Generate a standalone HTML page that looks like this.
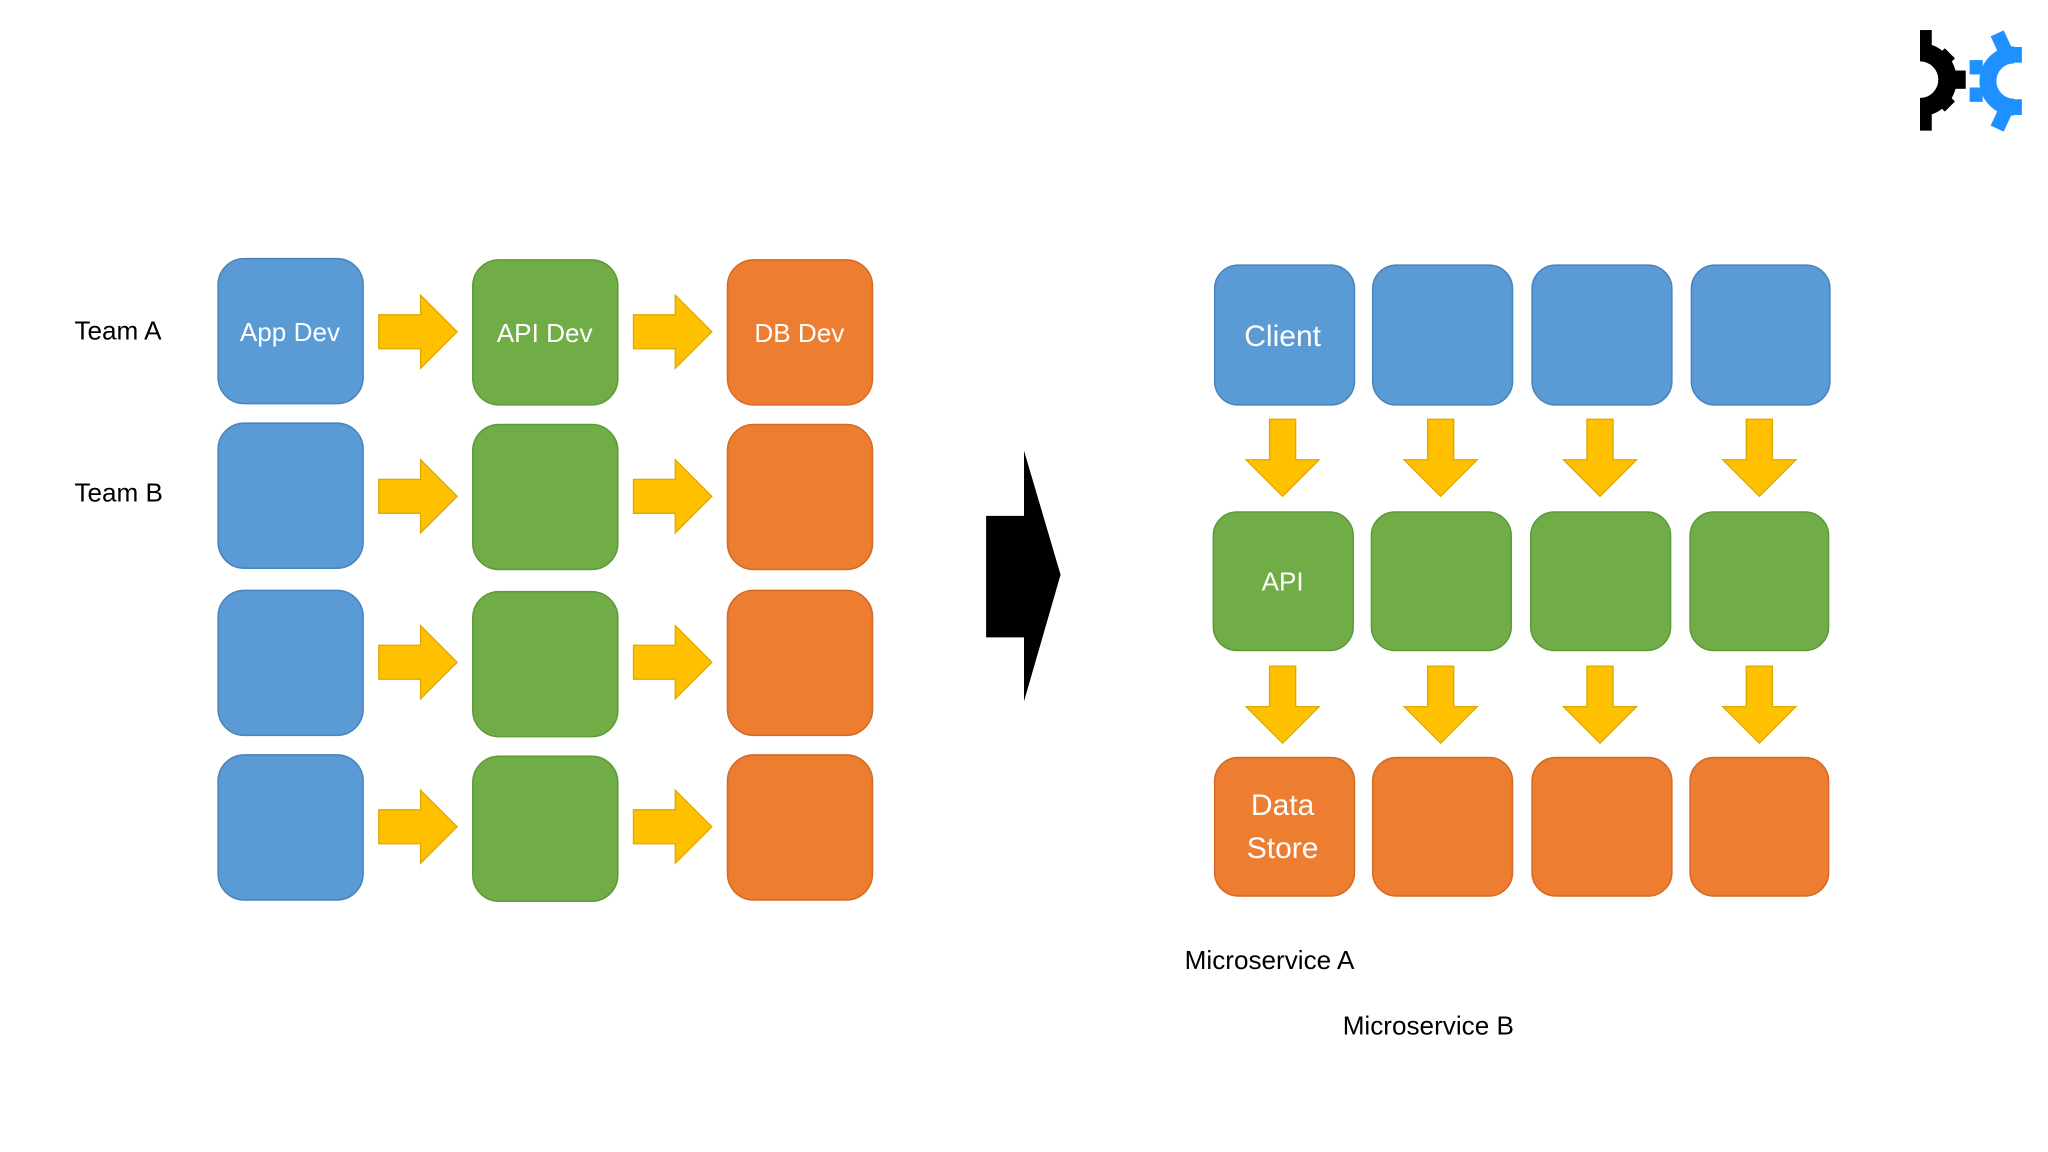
<!DOCTYPE html>
<html><head><meta charset="utf-8"><style>
html,body{margin:0;padding:0;background:#fff;}
svg{display:block}
text{font-family:"Liberation Sans",sans-serif;}
</style></head><body>
<svg width="2048" height="1152" viewBox="0 0 1568 882" xmlns="http://www.w3.org/2000/svg">
<defs>
<g id="ra"><path d="M0,-13 H32 V-28 L60,0 L32,28 V13 H0 Z" fill="#FFC000" stroke="#E0A800" stroke-width="1"/></g>
<g id="da"><path d="M-10,0 H10 V31 H28 L0,59 L-28,31 H-10 Z" fill="#FFC000" stroke="#E0A800" stroke-width="1"/></g>
</defs>
<rect width="1568" height="882" fill="#fff"/>
<g font-size="20" fill="#000">
<text x="57" y="260">Team A</text>
<text x="57" y="384">Team B</text>
</g>
<g stroke-width="1.2">
<g fill="#5B9BD5" stroke="#4A84BC">
<rect x="167" y="198" width="111" height="111" rx="20"/>
<rect x="167" y="324" width="111" height="111" rx="20"/>
<rect x="167" y="452" width="111" height="111" rx="20"/>
<rect x="167" y="578" width="111" height="111" rx="20"/>
</g>
<g fill="#70AD47" stroke="#5E9A3A">
<rect x="362" y="199" width="111" height="111" rx="20"/>
<rect x="362" y="325" width="111" height="111" rx="20"/>
<rect x="362" y="453" width="111" height="111" rx="20"/>
<rect x="362" y="579" width="111" height="111" rx="20"/>
</g>
<g fill="#ED7D31" stroke="#D56B24">
<rect x="557" y="199" width="111" height="111" rx="20"/>
<rect x="557" y="325" width="111" height="111" rx="20"/>
<rect x="557" y="452" width="111" height="111" rx="20"/>
<rect x="557" y="578" width="111" height="111" rx="20"/>
</g>
</g>
<g fill="#fff" font-size="20" text-anchor="middle">
<text x="222" y="261">App Dev</text>
<text x="417" y="262">API Dev</text>
<text x="612" y="262">DB Dev</text>
</g>
<use href="#ra" x="290" y="254"/><use href="#ra" x="485" y="254"/>
<use href="#ra" x="290" y="380"/><use href="#ra" x="485" y="380"/>
<use href="#ra" x="290" y="507"/><use href="#ra" x="485" y="507"/>
<use href="#ra" x="290" y="633"/><use href="#ra" x="485" y="633"/>
<path d="M755,395 H784 V345 L812,440 L784,537 V488 H755 Z" fill="#000"/>
<g stroke-width="1.2">
<g fill="#5B9BD5" stroke="#4A84BC">
<rect x="930" y="203" width="107" height="107" rx="18"/>
<rect x="1051" y="203" width="107" height="107" rx="18"/>
<rect x="1173" y="203" width="107" height="107" rx="18"/>
<rect x="1295" y="203" width="106" height="107" rx="18"/>
</g>
<g fill="#70AD47" stroke="#5E9A3A">
<rect x="929" y="392" width="107" height="106" rx="18"/>
<rect x="1050" y="392" width="107" height="106" rx="18"/>
<rect x="1172" y="392" width="107" height="106" rx="18"/>
<rect x="1294" y="392" width="106" height="106" rx="18"/>
</g>
<g fill="#ED7D31" stroke="#D56B24">
<rect x="930" y="580" width="107" height="106" rx="18"/>
<rect x="1051" y="580" width="107" height="106" rx="18"/>
<rect x="1173" y="580" width="107" height="106" rx="18"/>
<rect x="1294" y="580" width="106" height="106" rx="18"/>
</g>
</g>
<g fill="#fff" text-anchor="middle">
<text x="982" y="265" font-size="23">Client</text>
<text x="982" y="452" font-size="20">API</text>
<text x="982" y="624" font-size="23">Data</text>
<text x="982" y="657" font-size="23">Store</text>
</g>
<use href="#da" x="982" y="321"/><use href="#da" x="1103" y="321"/><use href="#da" x="1225" y="321"/><use href="#da" x="1347" y="321"/>
<use href="#da" x="982" y="510"/><use href="#da" x="1103" y="510"/><use href="#da" x="1225" y="510"/><use href="#da" x="1347" y="510"/>
<g font-size="20" fill="#000">
<text x="907" y="742">Microservice A</text>
<text x="1028" y="792">Microservice B</text>
</g>
<g>
<path d="M1470,40 A21,21 0 0 1 1470,82" fill="none" stroke="#000" stroke-width="14"/>
<rect x="1470" y="23" width="9" height="18" fill="#000"/>
<rect x="1470" y="82" width="9" height="18" fill="#000"/>
<rect x="1491" y="54" width="14" height="14" fill="#000"/>
<rect x="1484" y="39" width="11" height="11" fill="#000" transform="rotate(45 1489 44)"/>
<rect x="1484" y="72" width="11" height="11" fill="#000" transform="rotate(45 1489 77)"/>
<path d="M1542,42 A20,20 0 0 0 1542,82" fill="none" stroke="#1E90FF" stroke-width="13"/>
<rect x="1527" y="25" width="11" height="16" fill="#1E90FF" transform="rotate(-25 1532 33)"/>
<rect x="1527" y="83" width="11" height="16" fill="#1E90FF" transform="rotate(25 1532 91)"/>
<rect x="1508" y="46" width="10" height="11" fill="#1E90FF"/>
<rect x="1508" y="67" width="10" height="11" fill="#1E90FF"/>
<rect x="1542" y="36" width="6" height="12" fill="#1E90FF"/>
<rect x="1542" y="76" width="6" height="12" fill="#1E90FF"/>
</g>
</svg>
</body></html>
